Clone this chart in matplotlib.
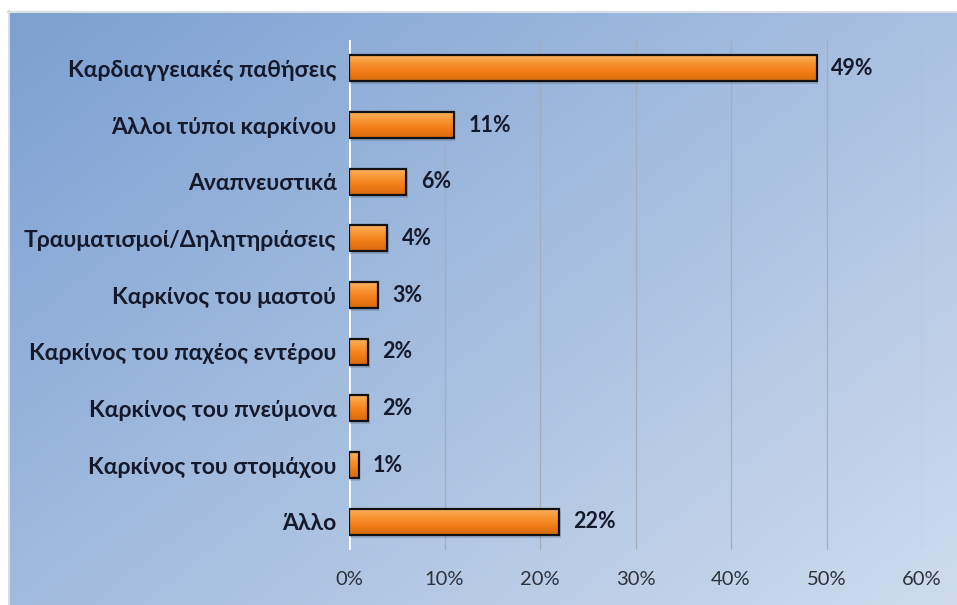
import numpy as np
import matplotlib
matplotlib.use("Agg")
import matplotlib.pyplot as plt
from matplotlib.colors import LinearSegmentedColormap

plt.rcParams['font.family'] = ['Lato', 'Open Sans', 'DejaVu Sans']

categories = [
    "Καρδιαγγειακές παθήσεις",
    "Άλλοι τύποι καρκίνου",
    "Αναπνευστικά",
    "Τραυματισμοί/Δηλητηριάσεις",
    "Καρκίνος του μαστού",
    "Καρκίνος του παχέος εντέρου",
    "Καρκίνος του πνεύμονα",
    "Καρκίνος του στομάχου",
    "Άλλο",
]
values = [49, 11, 6, 4, 3, 2, 2, 1, 22]
tick_values = [0, 10, 20, 30, 40, 50, 60]
tick_labels = ["0%", "10%", "20%", "30%", "40%", "50%", "60%"]

W, H = 957, 605
fig = plt.figure(figsize=(W / 100, H / 100), dpi=100)
fig.patch.set_facecolor("white")

# diagonal blue gradient panel behind the chart
bg = fig.add_axes([8 / W, 0, 1 - 8 / W, 1 - 11 / H])
bg.set_axis_off()
ny, nx = 200, 300
yy, xx = np.mgrid[0:1:ny * 1j, 0:1:nx * 1j]
t = np.clip(0.55 * xx + 0.45 * yy, 0, 1)
c0 = np.array([124, 160, 209]) / 255
c1 = np.array([206, 220, 238]) / 255
img = c0[None, None, :] * (1 - t[..., None]) + c1[None, None, :] * t[..., None]
bg.imshow(img, aspect="auto", extent=[0, 1, 0, 1], origin="upper")
bg.set_xlim(0, 1)
bg.set_ylim(0, 1)
# thin light frame on left and top
fig.add_artist(plt.Line2D([8.5 / W, 8.5 / W], [0, 1 - 11 / H], color="#d8dde6", lw=1.5))
fig.add_artist(plt.Line2D([8 / W, 1], [1 - 11.5 / H, 1 - 11.5 / H], color="#d8dde6", lw=1.5))

ax = fig.add_axes([349 / W, 1 - 550 / H, (922 - 349) / W, (550 - 40) / H])
ax.set_facecolor("none")
n = len(categories)

ax.set_xticks(tick_values)
ax.set_xticklabels(tick_labels)
ax.xaxis.grid(True, color="#a3adbb", lw=0.9)
ax.set_axisbelow(True)
for s in ax.spines.values():
    s.set_visible(False)
ax.axvline(0, color="white", lw=2, zorder=2)
ax.tick_params(axis="both", length=0)
ax.tick_params(axis="x", labelsize=14.5, labelcolor="#2c313b", pad=15)
ax.tick_params(axis="y", labelsize=16.5, labelcolor="#141a2c", pad=9)
ax.set_yticks(range(n))
ax.set_yticklabels(categories, fontweight="bold")

bar_h = 0.46
cmap = LinearSegmentedColormap.from_list(
    "orange", ["#fbb463", "#f99534", "#f07c16", "#d76a0c"])
grad = np.linspace(0, 1, 64)[:, None]
ypos = np.arange(n)

# soft shadow under each bar
ax.barh(ypos + 0.05, values, height=bar_h, left=0.15, color="#20304a",
        alpha=0.18, zorder=3, lw=0)
bars = ax.barh(ypos, values, height=bar_h, color="#f28a26",
               edgecolor="#111111", lw=1.6, zorder=5)
for b, v in zip(bars, values):
    y0 = b.get_y()
    im = ax.imshow(grad, cmap=cmap, aspect="auto", zorder=4,
                   extent=[0, v, y0 + bar_h, y0], origin="upper")
    b.set_facecolor("none")
    im.set_clip_path(b)
    ax.text(v + 1.5, b.get_y() + bar_h / 2, f"{v}%", va="center", ha="left",
            fontsize=15.5, fontweight="bold", color="#141a2c", zorder=6)

ax.set_xlim(0, 60)
ax.set_ylim(n - 0.5, -0.5)

fig.savefig("out.png", dpi=100)
